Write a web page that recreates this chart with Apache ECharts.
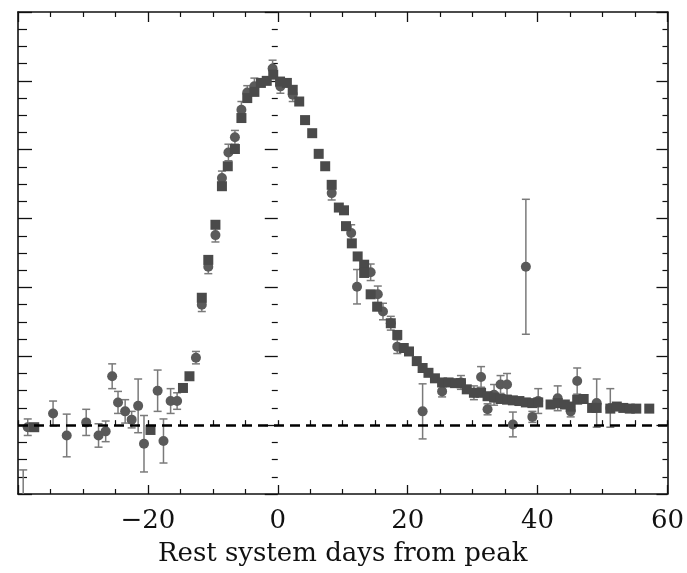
<!DOCTYPE html>
<html>
<head>
<meta charset="utf-8">
<script src="https://cdn.jsdelivr.net/npm/echarts@6/dist/echarts.min.js"></script>
<style>html,body{margin:0;padding:0;background:#fff}#c{width:687px;height:573px}</style>
</head>
<body>
<div id="c"></div>
<script>
// Circles (one data set) : day, flux, error
const circleDays = [-39.2,-38.5,-34.6,-32.5,-29.5,-27.6,-26.5,-25.5,-24.6,-23.5,-22.5,-21.5,-20.6,-18.5,-17.6,-16.5,-15.5,-12.6,-11.7,-10.7,-9.6,-8.6,-7.6,-6.6,-5.6,-4.7,-3.6,-0.8,0.4,2.3,8.3,11.3,12.2,14.3,15.4,16.2,17.4,18.4,22.3,25.3,28.2,30.2,31.3,32.3,33.3,34.3,35.3,36.2,38.2,39.2,40.1,43.1,45.1,46.1,49.1,51.2];
const circleFlux = [-1.4,-0.03,0.17,-0.15,0.04,-0.15,-0.09,0.71,0.33,0.2,0.08,0.28,-0.27,0.5,-0.23,0.35,0.35,0.98,1.75,2.3,2.76,3.59,3.96,4.18,4.58,4.83,4.92,5.18,4.92,4.8,3.37,2.79,2.01,2.22,1.9,1.65,1.48,1.14,0.2,0.49,0.62,0.47,0.7,0.23,0.44,0.59,0.59,0.01,2.3,0.12,0.35,0.39,0.2,0.64,0.32,0.25];
const circleErr  = [0.75,0.12,0.18,0.31,0.19,0.17,0.15,0.18,0.16,0.17,0.12,0.39,0.41,0.3,0.32,0.18,0.12,0.09,0.1,0.1,0.1,0.1,0.12,0.1,0.12,0.1,0.12,0.12,0.1,0.1,0.1,0.12,0.25,0.12,0.12,0.12,0.1,0.1,0.4,0.08,0.1,0.1,0.15,0.08,0.15,0.13,0.16,0.18,0.98,0.08,0.18,0.18,0.08,0.19,0.35,0.28];
// Squares (second data set) : day, flux, error
const squareDays = [-37.5,-19.6,-14.6,-13.6,-11.7,-10.7,-9.6,-8.6,-7.7,-6.6,-5.6,-4.7,-3.6,-2.6,-1.7,-0.7,0.35,1.4,2.3,3.3,4.2,5.3,6.3,7.3,8.3,9.4,10.2,10.5,11.4,12.3,13.3,13.3,14.3,15.3,17.4,18.4,19.4,20.2,21.4,22.3,23.2,24.2,25.3,26.3,27.3,28.2,29.1,30.2,31.3,32.3,33.3,34.3,35.3,36.2,37.2,38.2,39.2,40.1,42.0,43.1,44.2,45.1,46.1,47.1,48.4,49.1,51.2,52.2,53.2,54.2,55.2,57.2];
const squareFlux = [-0.03,-0.07,0.54,0.71,1.85,2.4,2.91,3.47,3.76,4.01,4.46,4.75,4.84,4.97,5.0,5.09,4.99,4.97,4.87,4.7,4.43,4.24,3.94,3.76,3.49,3.16,3.12,2.89,2.64,2.45,2.33,2.21,1.9,1.72,1.48,1.31,1.12,1.07,0.93,0.83,0.76,0.68,0.62,0.62,0.61,0.61,0.52,0.47,0.47,0.42,0.4,0.38,0.37,0.36,0.35,0.33,0.32,0.33,0.3,0.32,0.3,0.27,0.37,0.38,0.25,0.25,0.24,0.27,0.25,0.24,0.24,0.24];
const squareErr  = squareDays.map(() => 0.05);
const xTickValues = [-40,-20,0,20,40,60];
const baselineFlux = 0;
const xTitle = 'Rest system days from peak';

const circleData = circleDays.map((d, i) => [d, circleFlux[i], circleErr[i]]);
const squareData = squareDays.map((d, i) => [d, squareFlux[i], squareErr[i]]);

const X_MIN = -40, X_MAX = 60, Y_MIN = -1, Y_MAX = 6;
const barColor = '#7a7a7a';

function errRender(params, api) {
  const x = api.value(0), y = api.value(1), e = api.value(2);
  const hi = Math.min(y + e, Y_MAX), lo = Math.max(y - e, Y_MIN);
  const t = api.coord([x, hi]), b = api.coord([x, lo]);
  const hw = 4;
  const st = { stroke: barColor, lineWidth: 1.5 };
  const ch = [{ type: 'line', shape: { x1: t[0], y1: t[1], x2: b[0], y2: b[1] }, style: st }];
  if (y + e <= Y_MAX) ch.push({ type: 'line', shape: { x1: t[0] - hw, y1: t[1], x2: t[0] + hw, y2: t[1] }, style: st });
  if (y - e >= Y_MIN) ch.push({ type: 'line', shape: { x1: b[0] - hw, y1: b[1], x2: b[0] + hw, y2: b[1] }, style: st });
  return { type: 'group', children: ch };
}

const fontFam = 'DejaVu Serif';
const lineBlack = { color: '#111', width: 1.6 };

const chart = echarts.init(document.getElementById('c'), null, { renderer: 'canvas' });
chart.setOption({
  animation: false,
  backgroundColor: '#fff',
  grid: { left: 18, right: 14, top: 12, bottom: 79, containLabel: false },
  xAxis: [
    { type: 'value', position: 'bottom', min: X_MIN, max: X_MAX, interval: 20,
      axisLine: { show: true, onZero: false, lineStyle: lineBlack },
      axisTick: { show: true, inside: true, length: 9, lineStyle: { color: '#111', width: 1.3 } },
      minorTick: { show: true, splitNumber: 4, length: 5, lineStyle: { color: '#111', width: 1.2 } },
      splitLine: { show: false },
      axisLabel: { show: true, showMinLabel: false, margin: 14, color: '#111', fontFamily: fontFam, fontSize: 26,
        formatter: v => (v < 0 ? '\u2212' + Math.abs(v) : String(v)) },
      name: xTitle, nameLocation: 'middle', nameGap: 47,
      nameTextStyle: { color: '#111', fontFamily: fontFam, fontSize: 26 } },
    { type: 'value', position: 'top', min: X_MIN, max: X_MAX, interval: 20,
      axisLine: { show: true, onZero: false, lineStyle: lineBlack },
      axisTick: { show: true, inside: true, length: 10, lineStyle: { color: '#111', width: 1.3 } },
      minorTick: { show: true, splitNumber: 4, length: 5, lineStyle: { color: '#111', width: 1.2 } },
      splitLine: { show: false }, axisLabel: { show: false } },
    { type: 'value', position: 'top', min: X_MIN, max: X_MAX, interval: 20,
      axisLine: { show: false },
      axisTick: { show: true, inside: false, length: 5, lineStyle: { color: '#111', width: 1.3 } },
      minorTick: { show: true, splitNumber: 4, length: 5, lineStyle: { color: '#111', width: 1.2 } },
      splitLine: { show: false }, axisLabel: { show: false } }
  ],
  yAxis: [
    { type: 'value', position: 'left', min: Y_MIN, max: Y_MAX, interval: 1,
      axisLine: { show: true, onZero: false, lineStyle: lineBlack },
      axisTick: { show: true, inside: true, length: 14, lineStyle: { color: '#111', width: 1.3 } },
      minorTick: { show: true, splitNumber: 4, length: 9, lineStyle: { color: '#111', width: 1.2 } },
      splitLine: { show: false }, axisLabel: { show: false } },
    { type: 'value', position: 'left', min: Y_MIN, max: Y_MAX, interval: 1,
      axisLine: { show: false },
      axisTick: { show: true, inside: false, length: 13, lineStyle: { color: '#111', width: 1.3 } },
      minorTick: { show: true, splitNumber: 4, length: 6, lineStyle: { color: '#111', width: 1.2 } },
      splitLine: { show: false }, axisLabel: { show: false } },
    { type: 'value', position: 'right', min: Y_MIN, max: Y_MAX, interval: 1,
      axisLine: { show: true, onZero: false, lineStyle: lineBlack },
      axisTick: { show: true, inside: true, length: 11, lineStyle: { color: '#111', width: 1.3 } },
      minorTick: { show: true, splitNumber: 4, length: 5, lineStyle: { color: '#111', width: 1.2 } },
      splitLine: { show: false }, axisLabel: { show: false } }
  ],
  series: [
    { type: 'custom', name: 'circleErr', xAxisIndex: 0, yAxisIndex: 0, renderItem: errRender,
      data: circleData, z: 2, clip: true },
    { type: 'custom', name: 'squareErr', xAxisIndex: 0, yAxisIndex: 0, renderItem: errRender,
      data: squareData, z: 2, clip: true },
    { type: 'scatter', name: 'circles', xAxisIndex: 0, yAxisIndex: 0, symbol: 'circle', symbolSize: 10,
      itemStyle: { color: '#5a5a5a', opacity: 1 }, data: circleData, z: 3, clip: true,
      markLine: { silent: true, symbol: 'none', label: { show: false },
        lineStyle: { color: '#000', type: [10, 6], width: 2.6 },
        data: [{ yAxis: baselineFlux }] } },
    { type: 'scatter', name: 'squares', xAxisIndex: 0, yAxisIndex: 0, symbol: 'rect', symbolSize: 10,
      itemStyle: { color: '#4a4a4a', opacity: 1 }, data: squareData, z: 4, clip: true }
  ]
});
</script>
</body>
</html>
